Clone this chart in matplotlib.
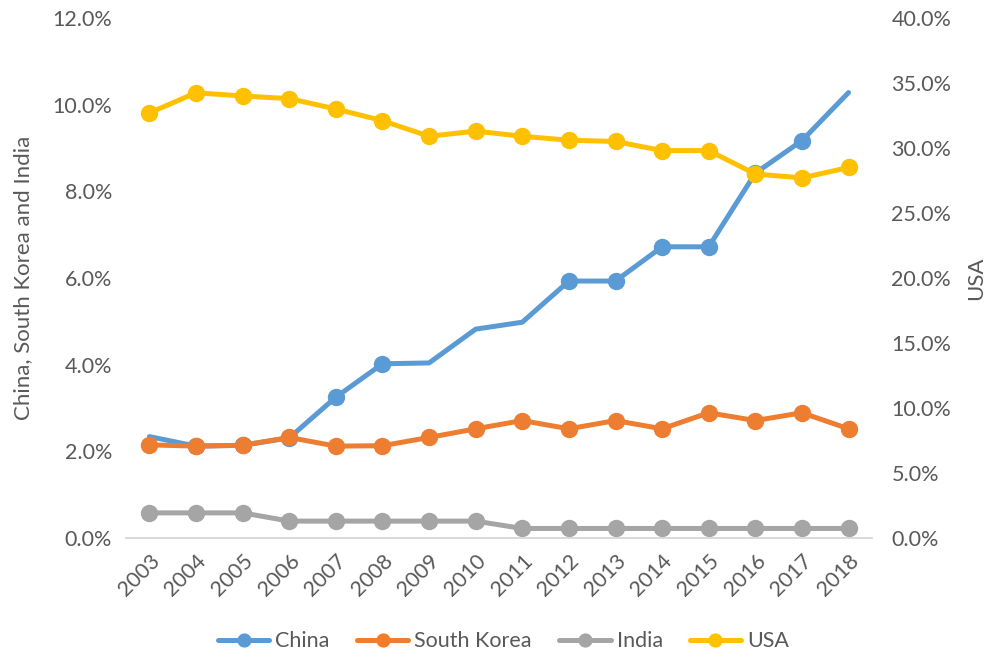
import matplotlib.pyplot as plt
from matplotlib.ticker import PercentFormatter

plt.rcParams['font.family'] = ['Lato', 'DejaVu Sans']

years = [str(y) for y in range(2003, 2019)]
china = [2.34, 2.12, 2.14, 2.31, 3.25, 4.02, 4.04, 4.82, 4.98, 5.93, 5.93, 6.72, 6.72, 8.42, 9.17, 10.28]
south_korea = [2.15, 2.12, 2.14, 2.32, 2.12, 2.13, 2.32, 2.52, 2.71, 2.52, 2.71, 2.52, 2.89, 2.71, 2.89, 2.52]
india = [0.58, 0.58, 0.58, 0.39, 0.39, 0.39, 0.39, 0.39, 0.22, 0.22, 0.22, 0.22, 0.22, 0.22, 0.22, 0.22]
usa = [32.7, 34.25, 34.0, 33.8, 33.0, 32.1, 30.9, 31.3, 30.9, 30.6, 30.5, 29.8, 29.8, 28.0, 27.7, 28.5]
# points of the China series that show no marker in the original
china_no_marker = [0, 6, 7, 8, 15]

text_col = '#595959'
x = list(range(len(years)))

fig = plt.figure(figsize=(9.93, 6.59), dpi=100)
ax = fig.add_axes([0.127, 0.1836, 0.751, 0.7891])
ax2 = ax.twinx()

style = dict(linewidth=3.6, marker='o', markersize=11.5, solid_capstyle='round')
h1, = ax.plot(x, china, color='#5B9BD5', label='China',
              markevery=[i for i in x if i not in china_no_marker], **style)
h2, = ax.plot(x, south_korea, color='#ED7D31', label='South Korea', **style)
h3, = ax.plot(x, india, color='#A5A5A5', label='India', **style)
h4, = ax2.plot(x, usa, color='#FFC000', label='USA', **style)

ax.set_xlim(-0.5, len(years) - 0.5)
ax.set_ylim(0, 12)
ax2.set_ylim(0, 40)
ax.set_yticks([0, 2, 4, 6, 8, 10, 12])
ax2.set_yticks(range(0, 41, 5))
ax.yaxis.set_major_formatter(PercentFormatter(decimals=1))
ax2.yaxis.set_major_formatter(PercentFormatter(decimals=1))
ax.set_xticks(x)
ax.set_xticklabels(years, rotation=45, ha='right', rotation_mode='anchor')

for a in (ax, ax2):
    for s in ('top', 'left', 'right'):
        a.spines[s].set_visible(False)
    a.spines['bottom'].set_color('#D9D9D9')
    a.spines['bottom'].set_linewidth(1.2)
    a.tick_params(length=0, labelsize=15.5, labelcolor=text_col)
ax.tick_params(axis='y', pad=10)
ax2.tick_params(axis='y', pad=14)
ax.tick_params(axis='x', pad=9)

ax.set_ylabel('China, South Korea and India', fontsize=16, color=text_col, labelpad=14)
ax2.set_ylabel('USA', fontsize=16, color=text_col, rotation=90, labelpad=11)

fig.legend(handles=[h1, h2, h3, h4], loc='center', bbox_to_anchor=(0.507, 0.027),
           ncol=4, frameon=False, fontsize=15.5, labelcolor=text_col,
           handlelength=2.4, columnspacing=1.25, handletextpad=0.28, markerscale=0.8)

fig.savefig('out.png', dpi=100)
